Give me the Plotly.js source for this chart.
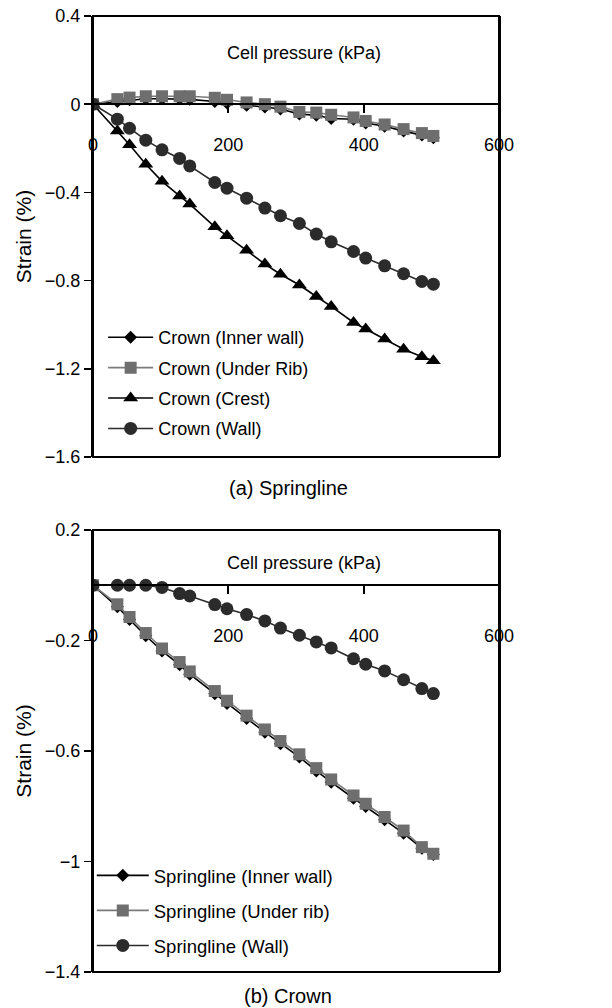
<!DOCTYPE html>
<html>
<head>
<meta charset="utf-8">
<script src="https://cdn.plot.ly/plotly-3.0.1.min.js"></script>
<style>html,body{margin:0;padding:0;background:#fff;}#chart{width:612px;height:1008px;}</style>
</head>
<body>
<div id="chart"></div>
<script>
// Cell pressure (kPa)
const pressure = [0, 36, 54, 78, 102, 128, 143, 180, 198, 227, 254, 277, 305, 330, 352, 385, 403, 431, 459, 486, 503];

// (a) Springline panel – series labelled "Crown (...)"
const crownInnerWall = [0, 0.012, 0.02, 0.025, 0.025, 0.025, 0.022, 0.012, 0.005, -0.005, -0.013, -0.022, -0.045, -0.05, -0.065, -0.068, -0.085, -0.1, -0.122, -0.14, -0.152];
const crownUnderRib  = [0, 0.023, 0.030, 0.036, 0.036, 0.036, 0.036, 0.029, 0.020, 0.008, 0.000, -0.011, -0.035, -0.038, -0.048, -0.060, -0.076, -0.092, -0.113, -0.131, -0.144];
const crownCrest     = [0, -0.121, -0.184, -0.272, -0.350, -0.416, -0.453, -0.556, -0.597, -0.662, -0.725, -0.771, -0.820, -0.872, -0.917, -0.990, -1.020, -1.065, -1.111, -1.145, -1.163];
const crownWall      = [0, -0.068, -0.109, -0.163, -0.207, -0.246, -0.280, -0.355, -0.381, -0.426, -0.471, -0.506, -0.541, -0.589, -0.624, -0.668, -0.698, -0.733, -0.769, -0.804, -0.816];

// (b) Crown panel – series labelled "Springline (...)"
const springInnerWall = [0, -0.078, -0.124, -0.183, -0.238, -0.288, -0.322, -0.393, -0.428, -0.482, -0.532, -0.574, -0.622, -0.672, -0.713, -0.771, -0.801, -0.849, -0.898, -0.952, -0.975];
const springUnderRib  = [0, -0.069, -0.115, -0.173, -0.229, -0.278, -0.312, -0.383, -0.418, -0.472, -0.522, -0.564, -0.612, -0.662, -0.703, -0.761, -0.791, -0.839, -0.888, -0.948, -0.972];
const springWall      = [0, 0, 0, 0, -0.008, -0.030, -0.039, -0.070, -0.085, -0.106, -0.129, -0.155, -0.181, -0.205, -0.227, -0.266, -0.286, -0.310, -0.342, -0.374, -0.392];

const xTicks = [0, 200, 400, 600];
const topRange = [-1.6, 0.4];
const botRange = [-1.4, 0.2];

const FONT = '"Liberation Sans", Arial, Helvetica, sans-serif';
const BLACK = '#000000', DARK = '#2b2b2b', GRAY = '#6e6e6e', GRAYLINE = '#7a7a7a';

function tr(name, y, xa, ya, sym, size, mcol, lcol, leg, grp) {
  return {
    type: 'scatter', mode: 'lines+markers', name: name,
    x: pressure, y: y, xaxis: xa, yaxis: ya, legend: leg, legendgroup: grp,
    line: {color: lcol, width: 1.6},
    marker: {symbol: sym, size: size, color: mcol, line: {width: 0}}
  };
}

const data = [
  tr('Crown (Inner wall)', crownInnerWall, 'x', 'y', 'diamond', 10, BLACK, BLACK, 'legend', 'a1'),
  tr('Crown (Under Rib)', crownUnderRib, 'x', 'y', 'square', 12, GRAY, GRAYLINE, 'legend', 'a2'),
  tr('Crown (Crest)', crownCrest, 'x', 'y', 'triangle-up', 13, BLACK, BLACK, 'legend', 'a3'),
  tr('Crown (Wall)', crownWall, 'x', 'y', 'circle', 13, DARK, DARK, 'legend', 'a4'),
  tr('Springline (Inner wall)', springInnerWall, 'x2', 'y2', 'diamond', 10, BLACK, BLACK, 'legend2', 'b1'),
  tr('Springline (Under rib)', springUnderRib, 'x2', 'y2', 'square', 12, GRAY, GRAYLINE, 'legend2', 'b2'),
  tr('Springline (Wall)', springWall, 'x2', 'y2', 'circle', 13, DARK, DARK, 'legend2', 'b3')
];

const H = 1008, mt = 16, mb = 36;
const ph = H - mt - mb;
const topDom = [(972 - 457) / ph, 1];
const botDom = [0, (972 - 530) / ph];
function zeroPos(dom, rng) { return dom[0] + (0 - rng[0]) / (rng[1] - rng[0]) * (dom[1] - dom[0]); }

const tickFont = {family: FONT, size: 18, color: BLACK};
function xax(dom, rng, standoff) {
  return {
    domain: [0, 1], range: [0, 600], anchor: 'free', position: zeroPos(dom, rng),
    tickvals: xTicks, ticks: 'outside', ticklen: 8, tickwidth: 2, tickcolor: BLACK,
    showline: true, linecolor: BLACK, linewidth: 2, showgrid: false, zeroline: false,
    tickfont: tickFont, ticklabelstandoff: standoff, fixedrange: true
  };
}
function yax(dom, rng, tick0) {
  return {
    domain: dom, range: rng, tick0: tick0, dtick: 0.4, ticks: 'outside', ticklen: 7,
    tickwidth: 1.5, tickcolor: BLACK, showline: true, linecolor: BLACK, linewidth: 2,
    mirror: true, showgrid: false, zeroline: false, tickfont: tickFont,
    title: {text: 'Strain (%)', font: {family: FONT, size: 21, color: BLACK}, standoff: 8}
  };
}
const annFont = {family: FONT, size: 18, color: BLACK};
const capFont = {family: FONT, size: 20, color: BLACK};

const layout = {
  width: 612, height: H,
  margin: {l: 93, r: 113, t: mt, b: mb},
  paper_bgcolor: '#ffffff', plot_bgcolor: '#ffffff',
  font: {family: FONT, size: 18, color: BLACK},
  xaxis: xax(topDom, topRange, 16),
  yaxis: yax(topDom, topRange, 0),
  xaxis2: xax(botDom, botRange, 26),
  yaxis2: yax(botDom, botRange, 0.2),
  legend: {x: 0.025, y: 0.683, xanchor: 'left', yanchor: 'top', bgcolor: 'rgba(0,0,0,0)',
    font: {family: FONT, size: 18, color: BLACK}, tracegroupgap: 4, itemwidth: 45, traceorder: 'grouped'},
  legend2: {x: -0.003, y: 0.1205, xanchor: 'left', yanchor: 'top', bgcolor: 'rgba(0,0,0,0)',
    font: {family: FONT, size: 18.5, color: BLACK}, tracegroupgap: 8, itemwidth: 52, traceorder: 'grouped'},
  shapes: [
    {type: 'rect', xref: 'x domain', yref: 'y domain', x0: 0, x1: 1, y0: 0, y1: 1, line: {color: BLACK, width: 2}},
    {type: 'rect', xref: 'x2 domain', yref: 'y2 domain', x0: 0, x1: 1, y0: 0, y1: 1, line: {color: BLACK, width: 2}}
  ],
  annotations: [
    {text: 'Cell pressure (kPa)', xref: 'x domain', yref: 'y domain', x: 0.52, y: (457 - 53) / 441, xanchor: 'center', yanchor: 'middle', showarrow: false, font: annFont},
    {text: 'Cell pressure (kPa)', xref: 'x2 domain', yref: 'y2 domain', x: 0.52, y: (972 - 563) / 442, xanchor: 'center', yanchor: 'middle', showarrow: false, font: annFont},
    {text: '(a) Springline', xref: 'paper', yref: 'paper', x: (288 - 93) / 406, y: (972 - 488) / ph, xanchor: 'center', yanchor: 'middle', showarrow: false, font: capFont},
    {text: '(b) Crown', xref: 'paper', yref: 'paper', x: (288 - 93) / 406, y: (972 - 996) / ph, xanchor: 'center', yanchor: 'middle', showarrow: false, font: capFont}
  ]
};

Plotly.newPlot('chart', data, layout, {displayModeBar: false, staticPlot: true});
</script>
</body>
</html>
